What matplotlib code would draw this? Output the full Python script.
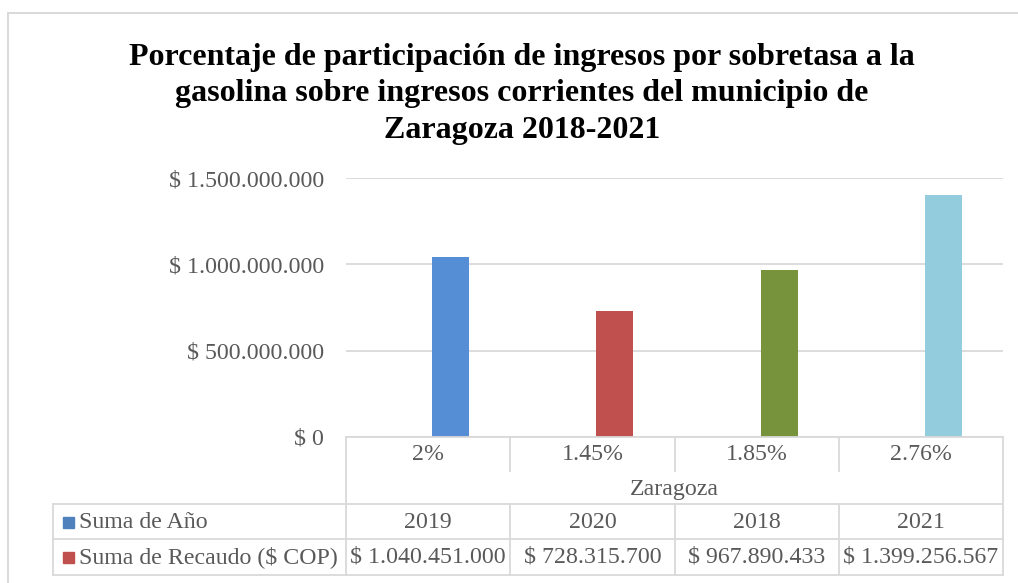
import matplotlib
matplotlib.use("Agg")
import matplotlib.pyplot as plt
from matplotlib.lines import Line2D
from matplotlib.patches import Rectangle
from matplotlib.ticker import FuncFormatter
import matplotlib.transforms as mtransforms
import numpy as np

# ---- data ----
categories = ["2%", "1.45%", "1.85%", "2.76%"]
group_label = "Zaragoza"
years = [2019, 2020, 2018, 2021]
recaudo = [1040451000, 728315700, 967890433, 1399256567]
recaudo_labels = ["$ 1.040.451.000", "$ 728.315.700", "$ 967.890.433", "$ 1.399.256.567"]
series_names = ["Suma de Año", "Suma de Recaudo ($ COP)"]
point_colors = ["#558ED5", "#C0504D", "#77933C", "#93CDDD"]
legend_colors = ["#4F81BD", "#C0504D"]
title = ("Porcentaje de participación de ingresos por sobretasa a la\n"
         "gasolina sobre ingresos corrientes del municipio de\n"
         "Zaragoza 2018-2021")
yticks = [0, 500000000, 1000000000, 1500000000]

W, H = 1018, 583
plt.rcParams['font.family'] = ['Liberation Serif', 'DejaVu Serif']
TXT = "#595959"
GRID = "#D9D9D9"

fig = plt.figure(figsize=(W / 100, H / 100), dpi=100)

def fx(x):
    return x / W

def fy(y):
    return 1 - y / H

# outer border
fig.add_artist(Line2D([fx(8), fx(W + 5)], [fy(13), fy(13)], color=GRID, lw=1.4))
fig.add_artist(Line2D([fx(8), fx(8)], [fy(13), fy(H + 5)], color=GRID, lw=1.4))

# title
fig.text(fx(522), fy(94), title, ha="center", va="center", fontsize=23,
         fontweight="bold", color="black", linespacing=1.33)

# plot area
L, R, T, B = 346, 1003, 178, 437
ax = fig.add_axes([fx(L), fy(B), (R - L) / W, (B - T) / H])
x = np.arange(len(categories))
bw = 0.225
gap = 0.024
ax.bar(x - gap - bw / 2, years, width=bw, color=point_colors, zorder=3)
ax.bar(x + gap + bw / 2, recaudo, width=bw, color=point_colors, zorder=3)
ax.set_xlim(-0.5, len(categories) - 0.5)
ax.set_ylim(0, 1.5e9)
ax.set_yticks(yticks)

def money(v, pos):
    return "$ " + f"{int(v):,}".replace(",", ".")

ax.yaxis.set_major_formatter(FuncFormatter(money))
ax.tick_params(axis="y", length=0, pad=16, labelsize=17.2, labelcolor=TXT)
ax.set_xticks([])
for s in ax.spines.values():
    s.set_visible(False)
ax.grid(axis="y", color=GRID, lw=1.3, zorder=0)
ax.set_axisbelow(True)

# ---- data table ----
lw = 1.3
fig.add_artist(Line2D([fx(L), fx(R)], [fy(437), fy(437)], color=GRID, lw=lw))
fig.add_artist(Line2D([fx(L), fx(L)], [fy(437), fy(575)], color=GRID, lw=lw))
fig.add_artist(Line2D([fx(R), fx(R)], [fy(437), fy(575)], color=GRID, lw=lw))
for yy in [504, 539, 575]:
    fig.add_artist(Line2D([fx(53), fx(R)], [fy(yy), fy(yy)], color=GRID, lw=lw))
fig.add_artist(Line2D([fx(53), fx(53)], [fy(504), fy(575)], color=GRID, lw=lw))

blend = mtransforms.blended_transform_factory(ax.transData, fig.transFigure)
for i in range(1, len(categories)):
    xb = i - 0.5
    fig.add_artist(Line2D([xb, xb], [fy(437), fy(471)], color=GRID, lw=lw,
                          transform=blend))
    fig.add_artist(Line2D([xb, xb], [fy(504), fy(575)], color=GRID, lw=lw,
                          transform=blend))

fs = 17.2
for i, c in enumerate(categories):
    ax.text(i, fy(454), c, transform=blend, ha="center", va="center",
            fontsize=fs, color=TXT)
    ax.text(i, fy(522), str(years[i]), transform=blend, ha="center", va="center",
            fontsize=fs, color=TXT)
    ax.text(i, fy(557), recaudo_labels[i], transform=blend, ha="center",
            va="center", fontsize=fs, color=TXT)
fig.text(fx((L + R) / 2), fy(489), group_label, ha="center", va="center",
         fontsize=fs, color=TXT)

for name, col, yc in zip(series_names, legend_colors, [522, 557]):
    fig.add_artist(Rectangle((fx(63), fy(yc + 5.5)), 11 / W, 11 / H,
                             transform=fig.transFigure, color=col))
    fig.text(fx(79), fy(yc), name, ha="left", va="center", fontsize=fs, color=TXT)

fig.savefig("out.png", dpi=100)
